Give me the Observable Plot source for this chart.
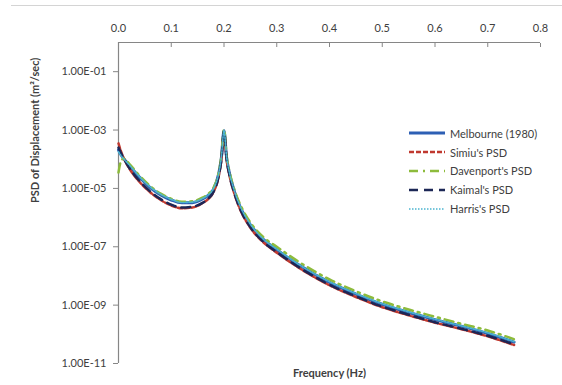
<!DOCTYPE html>
<html>
<head>
<meta charset="utf-8">
<script src="https://cdn.jsdelivr.net/npm/d3@7"></script>
<script src="https://cdn.jsdelivr.net/npm/@observablehq/plot@0.6"></script>
<style>
  html, body { margin: 0; padding: 0; background: #fff; }
  #wrap { position: relative; width: 562px; height: 385px; overflow: hidden; font-family: Lato, "Open Sans", sans-serif; }
  #border { position: absolute; left: 11px; right: 0; top: 5px; height: 0; border-top: 1.5px solid #d4d4d4; }
  #legend { position: absolute; left: 408px; top: 124px; font-size: 11px; color: #404040; }
  #legend .row { display: flex; align-items: center; height: 18.8px; }
  #legend svg { margin-right: 4px; }
</style>
</head>
<body>
<div id="wrap"><div id="border"></div><div id="legend"></div></div>
<script>
const freq = [0, 0.005, 0.01, 0.02, 0.04, 0.06, 0.08, 0.10, 0.12, 0.14, 0.16, 0.17, 0.18, 0.19, 0.195, 0.2, 0.205, 0.21, 0.22, 0.23, 0.25, 0.275, 0.3, 0.34, 0.4, 0.45, 0.5, 0.55, 0.6, 0.65, 0.7, 0.75];

const melbourne = [2.1e-4, 1.4e-4, 1.05e-4, 6.3e-5, 2.4e-5, 1.07e-5, 6.0e-6, 4.0e-6, 3.2e-6, 3.25e-6, 4.4e-6, 5.8e-6, 9.3e-6, 3.2e-5, 1.1e-4, 9.5e-4, 1.1e-4, 3.5e-5, 7.6e-6, 2.5e-6, 5.6e-7, 1.75e-7, 7.9e-8, 2.5e-8, 6.0e-9, 2.4e-9, 1.07e-9, 5.6e-10, 3.2e-10, 1.9e-10, 1.07e-10, 5.4e-11];
const simiu = [3.5e-4, 1.8e-4, 1.07e-4, 5.0e-5, 1.66e-5, 7.4e-6, 4.0e-6, 2.6e-6, 2.1e-6, 2.2e-6, 3.2e-6, 4.3e-6, 7.4e-6, 2.6e-5, 9.5e-5, 8.9e-4, 9.5e-5, 3.0e-5, 6.3e-6, 2.0e-6, 4.5e-7, 1.4e-7, 6.3e-8, 2.0e-8, 4.8e-9, 1.9e-9, 8.5e-10, 4.5e-10, 2.5e-10, 1.5e-10, 8.5e-11, 4.3e-11];
const davenport = [3.5e-5, 8.9e-5, 1.05e-4, 7.1e-5, 2.7e-5, 1.2e-5, 6.6e-6, 4.4e-6, 3.5e-6, 3.6e-6, 4.9e-6, 6.5e-6, 1.05e-5, 3.5e-5, 1.26e-4, 1.05e-3, 1.26e-4, 4.0e-5, 8.7e-6, 3.0e-6, 6.8e-7, 2.1e-7, 1.0e-7, 3.2e-8, 7.6e-9, 3.0e-9, 1.35e-9, 7.1e-10, 4.0e-10, 2.3e-10, 1.35e-10, 6.8e-11];
const kaimal = [2.5e-4, 1.6e-4, 1.05e-4, 5.2e-5, 1.8e-5, 7.9e-6, 4.3e-6, 2.8e-6, 2.2e-6, 2.35e-6, 3.25e-6, 4.4e-6, 7.6e-6, 2.7e-5, 9.8e-5, 9.1e-4, 1.0e-4, 3.1e-5, 6.6e-6, 2.1e-6, 4.7e-7, 1.45e-7, 6.6e-8, 2.1e-8, 5.0e-9, 2.0e-9, 8.9e-10, 4.7e-10, 2.6e-10, 1.55e-10, 8.9e-11, 4.5e-11];
const harris = [1.8e-4, 1.3e-4, 1.02e-4, 6.5e-5, 2.5e-5, 1.12e-5, 6.3e-6, 4.2e-6, 3.3e-6, 3.4e-6, 4.6e-6, 6.0e-6, 9.8e-6, 3.3e-5, 1.17e-4, 9.8e-4, 1.17e-4, 3.7e-5, 7.9e-6, 2.6e-6, 5.9e-7, 1.8e-7, 8.3e-8, 2.6e-8, 6.3e-9, 2.5e-9, 1.12e-9, 5.9e-10, 3.3e-10, 1.95e-10, 1.12e-10, 5.6e-11];

const seriesNames = ["Melbourne (1980)", "Simiu's PSD", "Davenport's PSD", "Kaimal's PSD", "Harris's PSD"];
const seriesValues = [melbourne, simiu, davenport, kaimal, harris];
const seriesColors = ["#2d5fb4", "#c0392f", "#8dbb3c", "#1c2756", "#4bb4d0"];
const seriesWidths = [3, 2.5, 2.5, 2.5, 1.6];
const seriesDash = [null, "5,2", "9,5,2,5", "9,6", "1.5,1.5"];

const xTicks = [0, 0.1, 0.2, 0.3, 0.4, 0.5, 0.6, 0.7, 0.8];
const yTicks = [1e-1, 1e-3, 1e-5, 1e-7, 1e-9, 1e-11];

const yFmt = v => { const e = Math.round(Math.log10(v)); return "1.00E" + (e < 0 ? "-" : "+") + String(Math.abs(e)).padStart(2, "0"); };

const rows = [];
seriesNames.forEach((name, i) => {
  freq.forEach((f, j) => rows.push({series: name, idx: i, f, v: seriesValues[i][j]}));
});

const lineMarks = seriesNames.map((name, i) =>
  Plot.line(rows.filter(r => r.idx === i), {
    x: "f", y: "v", stroke: seriesColors[i], strokeWidth: seriesWidths[i],
    strokeDasharray: seriesDash[i] || undefined, curve: "monotone-x"
  })
);

const chart = Plot.plot({
  width: 562,
  height: 385,
  marginLeft: 118,
  marginRight: 22,
  marginTop: 42,
  marginBottom: 22,
  style: { fontFamily: "Lato, 'Open Sans', sans-serif", fontSize: "11px", color: "#404040", background: "transparent" },
  x: { domain: [0, 0.8] },
  y: { type: "log", domain: [1e-11, 1] },
  marks: [
    Plot.axisX({ anchor: "top", ticks: xTicks, tickSize: 0, tickPadding: 11, tickFormat: d3.format(".1f"), label: null, fill: "#404040" }),
    Plot.axisX({ anchor: "top", ticks: xTicks, tickSize: 4, dy: 4, tickFormat: () => "", label: null, stroke: "#868686" }),
    Plot.axisY({ ticks: yTicks, tickSize: 5, tickPadding: 7, tickFormat: yFmt, label: null, stroke: "#868686", fill: "#404040" }),
    Plot.ruleX([0], { stroke: "#868686", strokeWidth: 1.2 }),
    Plot.ruleY([1], { stroke: "#868686", strokeWidth: 1.2 }),
    ...lineMarks,
    Plot.text(["Frequency (Hz)"], { frameAnchor: "bottom", dy: 13, fontWeight: "bold", fill: "#404040", fontSize: 11 }),
    Plot.text(["PSD of Displacement (m\u00b2/sec)"], { frameAnchor: "left", dx: -83, rotate: -90, fontWeight: "bold", fill: "#404040", fontSize: 11 })
  ]
});

document.getElementById("wrap").appendChild(chart);
chart.style.position = "absolute";
chart.style.left = "0";
chart.style.top = "0";

const legend = document.getElementById("legend");
seriesNames.forEach((name, i) => {
  const row = document.createElement("div");
  row.className = "row";
  row.innerHTML = `<svg width="38" height="10"><line x1="1" y1="5" x2="37" y2="5" stroke="${seriesColors[i]}" stroke-width="${seriesWidths[i]}" ${seriesDash[i] ? `stroke-dasharray="${seriesDash[i]}"` : ""}/></svg><span>${name}</span>`;
  legend.appendChild(row);
});
document.getElementById("wrap").appendChild(legend);
</script>
</body>
</html>
